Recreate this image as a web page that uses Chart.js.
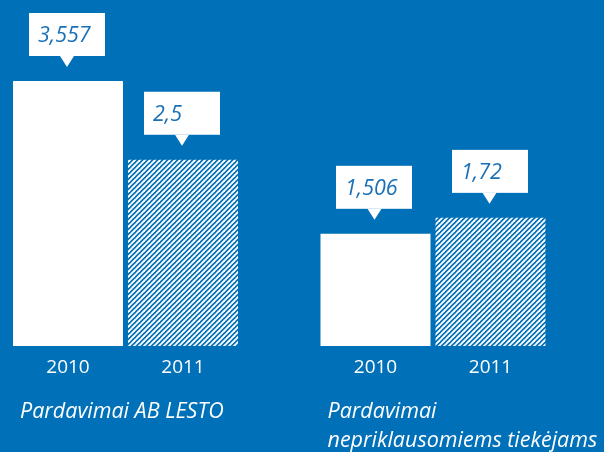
<!DOCTYPE html>
<html>
<head>
<meta charset="utf-8">
<script src="https://cdn.jsdelivr.net/npm/chart.js@4/dist/chart.umd.min.js"></script>
<style>
  html, body { margin: 0; padding: 0; background: #0070b8; overflow: hidden; }
  canvas { display: block; }
</style>
</head>
<body>
<canvas id="c" width="604" height="452"></canvas>
<script>
// ---- data ----
const groupLabels = [['Pardavimai AB LESTO'], ['Pardavimai', 'nepriklausomiems tiekėjams']];
const years = ['2010', '2011'];
const values2010 = [3.557, 1.506];
const values2011 = [2.5, 1.72];
const valueText2010 = ['3,557', '1,506'];
const valueText2011 = ['2,5', '1,72'];

// ---- styles ----
const BG = '#0070b8';
const TEXT_BLUE = '#1a70b6';
const FONT = "'Open Sans', 'Noto Sans', sans-serif";

function makeHatch() {
  const size = 5;
  const c = document.createElement('canvas');
  c.width = size; c.height = size;
  const g = c.getContext('2d');
  g.fillStyle = BG;
  g.fillRect(0, 0, size, size);
  g.strokeStyle = '#ffffff';
  g.lineWidth = 1.9;
  for (let k = -1; k <= 2; k++) {
    const off = k * size;
    g.beginPath();
    g.moveTo(off - 1, size + 1);
    g.lineTo(off + size + 1, -1);
    g.stroke();
  }
  return g.createPattern(c, 'repeat');
}

const valueTexts = [valueText2010, valueText2011];

const decor = {
  id: 'decor',
  beforeDraw(chart) {
    const ctx = chart.ctx;
    ctx.save();
    ctx.fillStyle = BG;
    ctx.fillRect(0, 0, chart.width, chart.height);
    ctx.restore();
  },
  afterDatasetsDraw(chart) {
    const ctx = chart.ctx;
    const zeroY = chart.scales.y.getPixelForValue(0);
    ctx.save();
    chart.data.datasets.forEach((ds, di) => {
      const meta = chart.getDatasetMeta(di);
      meta.data.forEach((bar, i) => {
        const cx = bar.x - 1;
        const tipY = bar.y - 14;
        const triH = 11, triW = 14;
        const boxW = 76, boxH = 43;
        const boxBottom = tipY - triH;
        const boxTop = boxBottom - boxH;
        const boxLeft = Math.round(cx - boxW / 2);
        ctx.fillStyle = '#ffffff';
        ctx.fillRect(boxLeft, boxTop, boxW, boxH);
        ctx.beginPath();
        ctx.moveTo(cx - triW / 2, boxBottom);
        ctx.lineTo(cx + triW / 2, boxBottom);
        ctx.lineTo(cx, tipY);
        ctx.closePath();
        ctx.fill();
        ctx.fillStyle = TEXT_BLUE;
        ctx.font = 'italic 21.5px ' + FONT;
        ctx.textAlign = 'left';
        ctx.textBaseline = 'alphabetic';
        ctx.fillText(valueTexts[di][i], boxLeft + 9, boxTop + 29);
        // year label under bar
        ctx.fillStyle = '#ffffff';
        ctx.font = '19px ' + FONT;
        ctx.textAlign = 'center';
        ctx.fillText(ds.label, bar.x, zeroY + 27);
      });
    });
    // group labels
    const firstMeta = chart.getDatasetMeta(0);
    firstMeta.data.forEach((bar, i) => {
      const left = bar.x - bar.width / 2 + 7;
      ctx.fillStyle = '#ffffff';
      ctx.font = 'italic 21.5px ' + FONT;
      ctx.textAlign = 'left';
      const lines = groupLabels[i];
      lines.forEach((ln, k) => {
        ctx.fillText(ln, left, zeroY + 72 + k * 29);
      });
    });
    ctx.restore();
  }
};

const chart = new Chart(document.getElementById('c'), {
  type: 'bar',
  data: {
    labels: groupLabels.map(l => l.join(' ')),
    datasets: [
      { label: years[0], data: values2010, backgroundColor: '#ffffff', clip: false, borderWidth: 0 },
      { label: years[1], data: values2011, backgroundColor: makeHatch(), clip: false, borderWidth: 0 }
    ]
  },
  options: {
    responsive: false,
    devicePixelRatio: 1,
    animation: false,
    categoryPercentage: 0.748,
    barPercentage: 0.9565,
    layout: { padding: { left: 125.5, right: 171, top: 48, bottom: 106 } },
    plugins: { legend: { display: false }, tooltip: { enabled: false } },
    scales: {
      x: { type: 'category', offset: false, display: false, grid: { display: false } },
      y: { min: 0, max: 4, display: false, grid: { display: false } }
    }
  },
  plugins: [decor]
});
</script>
</body>
</html>
